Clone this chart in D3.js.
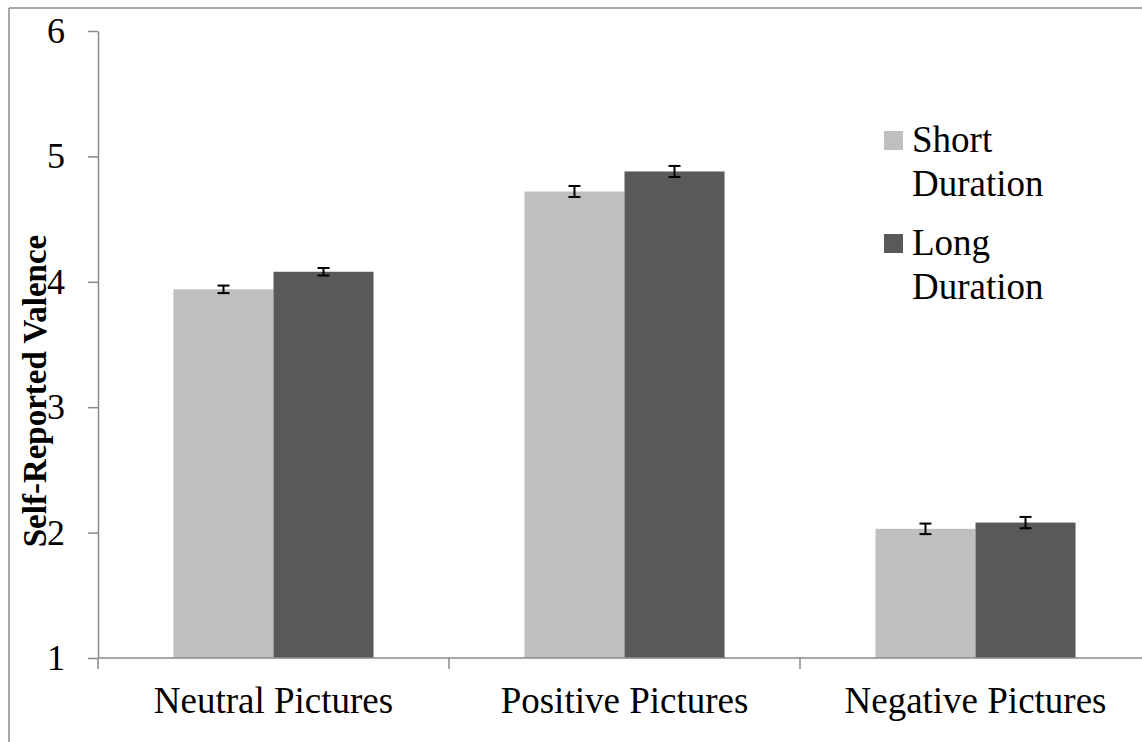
<!DOCTYPE html>
<html>
<head>
<meta charset="utf-8">
<script src="https://cdn.jsdelivr.net/npm/d3@7"></script>
<style>
  html, body { margin: 0; padding: 0; background: #fff; }
  svg { display: block; }
  text { font-family: "Liberation Serif", "Times New Roman", serif; fill: #000; }
</style>
</head>
<body>
<svg id="chart" width="1142" height="742"></svg>
<script>
const categories = ["Neutral Pictures", "Positive Pictures", "Negative Pictures"];
const seriesNames = ["Short Duration", "Long Duration"];
const shortValues = [3.94, 4.72, 2.03];
const longValues = [4.08, 4.88, 2.08];
const shortErrors = [0.03, 0.044, 0.042];
const longErrors = [0.03, 0.044, 0.045];
const yTicks = [1, 2, 3, 4, 5, 6];
const seriesColors = ["#bfbfbf", "#595959"];

const FONT = "Liberation Serif, Times New Roman, serif";
const svg = d3.select("#chart");
const axisColor = "#8a8a8a";

// outer frame (left and top edges visible)
svg.append("line").attr("x1", 9).attr("x2", 9).attr("y1", 8).attr("y2", 742)
  .attr("stroke", axisColor).attr("stroke-width", 1.5);
svg.append("line").attr("x1", 9).attr("x2", 1142).attr("y1", 8).attr("y2", 8)
  .attr("stroke", axisColor).attr("stroke-width", 1.5);

const plotLeft = 98, plotRight = 1151, plotTop = 31, plotBottom = 658;

const y = d3.scaleLinear().domain([1, 6]).range([plotBottom, plotTop]);
const x0 = d3.scaleBand().domain(categories).range([plotLeft, plotRight])
  .paddingInner(0.43).paddingOuter(0.215);
const x1 = d3.scaleBand().domain(seriesNames).range([0, x0.bandwidth()]).padding(0);

const data = categories.map((c, i) => ({
  cat: c,
  vals: [
    { s: seriesNames[0], v: shortValues[i], e: shortErrors[i], col: seriesColors[0] },
    { s: seriesNames[1], v: longValues[i], e: longErrors[i], col: seriesColors[1] }
  ]
}));

// bars
const groups = svg.append("g").selectAll("g").data(data).join("g")
  .attr("transform", d => `translate(${x0(d.cat)},0)`);
groups.selectAll("rect").data(d => d.vals).join("rect")
  .attr("x", d => x1(d.s))
  .attr("y", d => y(d.v))
  .attr("width", x1.bandwidth())
  .attr("height", d => y(1) - y(d.v))
  .attr("fill", d => d.col);

// error bars
const eb = groups.selectAll("g.err").data(d => d.vals).join("g").attr("class", "err")
  .attr("stroke", "#000").attr("stroke-width", 2);
eb.append("line")
  .attr("x1", d => x1(d.s) + x1.bandwidth() / 2).attr("x2", d => x1(d.s) + x1.bandwidth() / 2)
  .attr("y1", d => y(d.v + d.e)).attr("y2", d => y(d.v - d.e));
eb.append("line")
  .attr("x1", d => x1(d.s) + x1.bandwidth() / 2 - 6).attr("x2", d => x1(d.s) + x1.bandwidth() / 2 + 6)
  .attr("y1", d => y(d.v + d.e)).attr("y2", d => y(d.v + d.e));
eb.append("line")
  .attr("x1", d => x1(d.s) + x1.bandwidth() / 2 - 6).attr("x2", d => x1(d.s) + x1.bandwidth() / 2 + 6)
  .attr("y1", d => y(d.v - d.e)).attr("y2", d => y(d.v - d.e));

// y axis
const yAxis = svg.append("g").attr("transform", `translate(${plotLeft},0)`)
  .call(d3.axisLeft(y).tickValues(yTicks).tickFormat(d3.format("d")).tickSize(10).tickSizeOuter(0).tickPadding(23));
yAxis.attr("font-family", null).attr("font-size", null);
yAxis.select(".domain").attr("stroke", axisColor).attr("stroke-width", 1.5);
yAxis.selectAll(".tick line").attr("stroke", axisColor).attr("stroke-width", 1.5);
yAxis.selectAll(".tick text").style("font-family", FONT).style("font-size", "36px").attr("fill", "#000");

// x axis
const boundaries = d3.range(categories.length + 1).map(i => x0.range()[0] + i * x0.step());
const xg = svg.append("g");
xg.append("line").attr("x1", plotLeft).attr("x2", plotRight).attr("y1", plotBottom).attr("y2", plotBottom)
  .attr("stroke", axisColor).attr("stroke-width", 1.5);
xg.selectAll("line.tk").data(boundaries).join("line").attr("class", "tk")
  .attr("x1", d => d).attr("x2", d => d).attr("y1", plotBottom).attr("y2", plotBottom + 11)
  .attr("stroke", axisColor).attr("stroke-width", 1.5);
xg.selectAll("text").data(categories).join("text")
  .attr("x", d => x0(d) + x0.bandwidth() / 2)
  .attr("y", 713)
  .attr("text-anchor", "middle")
  .style("font-family", FONT)
  .style("font-size", "37px")
  .text(d => d);

// y title
svg.append("text")
  .attr("transform", `translate(46,391) rotate(-90)`)
  .attr("text-anchor", "middle")
  .style("font-family", FONT)
  .style("font-size", "33px")
  .style("font-weight", "bold")
  .text("Self-Reported Valence");

// legend
const legendItems = [
  { col: seriesColors[0], lines: ["Short", "Duration"], y: 152 },
  { col: seriesColors[1], lines: ["Long", "Duration"], y: 255 }
];
const lg = svg.append("g").selectAll("g").data(legendItems).join("g");
lg.append("rect").attr("x", 884).attr("y", d => d.y - 21).attr("width", 19).attr("height", 19)
  .attr("fill", d => d.col);
lg.append("text").attr("x", 912).attr("y", d => d.y)
  .style("font-family", FONT).style("font-size", "37px")
  .selectAll("tspan").data(d => d.lines).join("tspan")
  .attr("x", 912).attr("dy", (d, i) => i === 0 ? 0 : 44).text(d => d);
</script>
</body>
</html>
